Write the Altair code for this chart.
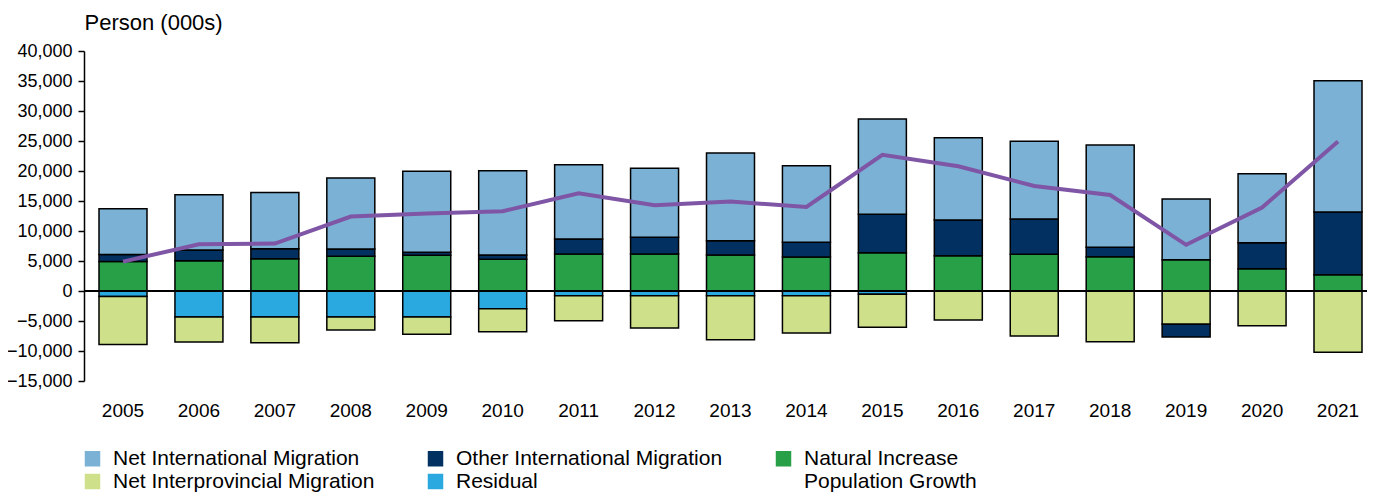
import altair as alt
import pandas as pd

years = [str(y) for y in range(2005, 2022)]
net_international = [7600, 9230, 9340, 11830, 13500, 14060, 12390, 11500, 14610, 12780, 15890, 13730, 12940, 17050, 10110, 11500, 21890]
other_international = [1200, 1770, 1670, 1220, 500, 720, 2500, 2770, 2390, 2440, 6390, 5940, 5890, 1560, -2110, 4340, 10450]
natural_increase = [4900, 5060, 5390, 5780, 5940, 5280, 6170, 6170, 6000, 5670, 6390, 5890, 6110, 5720, 5220, 3720, 2720]
net_interprovincial = [-8000, -4170, -4280, -2170, -2890, -3840, -4160, -5390, -7330, -6220, -5500, -4830, -7500, -8440, -5560, -5780, -10220]
residual = [-900, -4330, -4330, -4330, -4330, -2940, -780, -780, -780, -780, -560, 0, 0, 0, 0, 0, 0]
population_growth = [4900, 7800, 7900, 12400, 12900, 13300, 16300, 14300, 14900, 14000, 22700, 20800, 17500, 16000, 7700, 13900, 24900]

legend_names = ["Net International Migration", "Other International Migration", "Natural Increase",
                "Net Interprovincial Migration", "Residual", "Population Growth"]
legend_colors = ["#7BB1D5", "#023161", "#27A047", "#CFE08A", "#2AA8E0", "#FFFFFF"]
y_ticks = [-15000, -10000, -5000, 0, 5000, 10000, 15000, 20000, 25000, 30000, 35000, 40000]

# stacking order (closest to zero first)
series = [
    ("Residual", residual, 0),
    ("Natural Increase", natural_increase, 1),
    ("Net Interprovincial Migration", net_interprovincial, 2),
    ("Other International Migration", other_international, 3),
    ("Net International Migration", net_international, 4),
]
rows = []
for name, vals, o in series:
    for y, v in zip(years, vals):
        if v != 0:
            rows.append({"year": y, "series": name, "value": v, "ord": o})
bars_df = pd.DataFrame(rows)
line_df = pd.DataFrame({"year": years, "growth": population_growth})

FONT = "Liberation Sans"

x_scale = alt.Scale(paddingInner=0.368, paddingOuter=0.1317, align=0.75, round=False)
y_scale = alt.Scale(domain=[-15000, 40000], nice=False, zero=False)

x_axis = alt.Axis(title=None, labelAngle=0, labelFontSize=19, labelColor="black", labelFont=FONT,
                  domain=False, ticks=False, labelPadding=20)
y_axis = alt.Axis(
    values=y_ticks, format=",d", grid=False, labelOverlap=False,
    labelFontSize=18, labelColor="black", labelFont=FONT, labelPadding=6,
    domain=True, domainColor="black", domainWidth=1.5, ticks=True, tickColor="black",
    tickSize=6, tickWidth=1.5,
    title="Person (000s)", titleAngle=0, titleAlign="left", titleBaseline="alphabetic",
    titleX=0, titleY=-22, titleFontSize=22, titleFontWeight="normal", titleColor="black",
    titleFont=FONT,
)

bars = alt.Chart(bars_df).mark_bar(stroke="black", strokeWidth=1.5).encode(
    x=alt.X("year:N", scale=x_scale, axis=x_axis),
    y=alt.Y("value:Q", stack="zero", scale=y_scale, axis=y_axis),
    color=alt.Color(
        "series:N",
        scale=alt.Scale(domain=legend_names, range=legend_colors),
        legend=alt.Legend(
            title=None, orient="none", legendX=-2, legendY=397, columns=3, columnPadding=50,
            direction="horizontal", rowPadding=1, symbolType="square", symbolSize=240,
            symbolStrokeWidth=0, labelFontSize=21, labelColor="black", labelFont=FONT,
            labelOffset=10, labelLimit=0,
        ),
    ),
    order=alt.Order("ord:Q", sort="ascending"),
)

rule = alt.Chart(line_df).transform_calculate(zero="0").mark_rule(color="black", strokeWidth=1).encode(
    y=alt.Y("zero:Q", scale=y_scale, axis=y_axis)
)

line = alt.Chart(line_df).mark_line(color="#7F56A5", strokeWidth=4).encode(
    x=alt.X("year:N", scale=x_scale, axis=x_axis),
    y=alt.Y("growth:Q", scale=y_scale, axis=y_axis),
)

chart = alt.layer(bars, rule, line).properties(
    width=1283,
    height=330,
    autosize=alt.AutoSizeParams(type="none"),
    padding={"left": 76, "top": 43, "right": 0, "bottom": 111},
).configure(font=FONT, view=alt.ViewConfig(stroke=None))

chart.save("out.html", embed_options={"renderer": "svg", "actions": False})
